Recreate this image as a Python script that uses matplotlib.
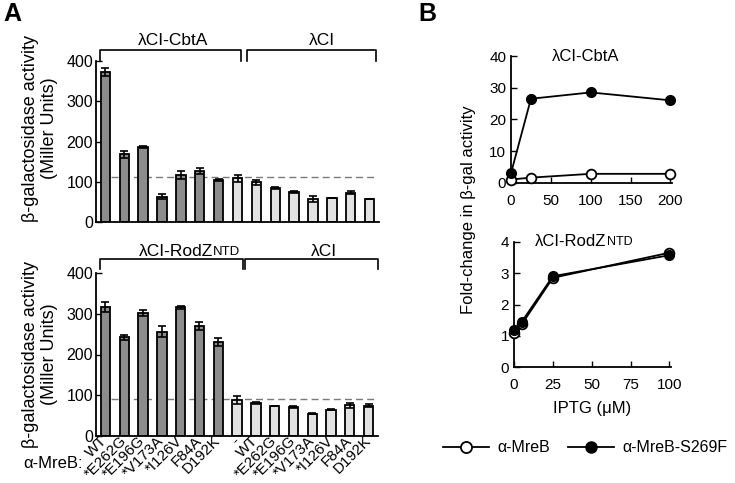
import numpy as np
import matplotlib
matplotlib.use("Agg")
import matplotlib.pyplot as plt
from matplotlib.lines import Line2D

plt.rcParams["font.family"] = ["Liberation Sans", "DejaVu Sans"]

# ── data: panel A ──
mutants = ["WT", "*E262G", "*E196G", "*V173A", "*I126V", "F84A", "D192K", "-",
           "WT", "*E262G", "*E196G", "*V173A", "*I126V", "F84A", "D192K"]
# first 7 bars are fusion + MreB variants (dark), the rest light
n_dark = 7

cbta_vals = [373, 168, 186, 63, 117, 127, 105, 109, 99, 85, 75, 57, 60, 73, 57]
cbta_err = [10, 8, 3, 6, 9, 7, 3, 9, 6, 2, 3, 8, 0, 3, 0]
cbta_base = 111

rodz_vals = [317, 242, 301, 256, 315, 270, 231, 89, 81, 73, 72, 55, 65, 76, 75]
rodz_err = [12, 6, 8, 14, 3, 9, 9, 9, 2, 0, 3, 1, 1, 6, 4]
rodz_base = 90

# ── data: panel B ──
iptg_cbta = [0, 25, 100, 200]
cbta_open = [1.0, 1.6, 2.8, 2.8]
cbta_filled = [3.0, 26.5, 28.5, 26.0]

iptg_rodz = [0, 5, 25, 100]
rodz_open = [1.1, 1.37, 2.85, 3.65]
rodz_filled = [1.2, 1.45, 2.9, 3.57]

DARK = "#8c8c8c"
LIGHT = "#e2e2e2"

W, H = 735, 483
fig = plt.figure(figsize=(W / 100, H / 100), dpi=100)


def px_axes(left, right, top, bottom):
    return fig.add_axes([left / W, 1 - bottom / H, (right - left) / W, (bottom - top) / H])


def bar_panel(ax, vals, errs, base, labels_on):
    x = np.arange(len(vals))
    colors = [DARK] * n_dark + [LIGHT] * (len(vals) - n_dark)
    ax.bar(x, vals, width=0.5, color=colors, edgecolor="black", linewidth=1.3, zorder=2)
    ax.errorbar(x, vals, yerr=errs, fmt="none", ecolor="black", elinewidth=1.2,
                capsize=3, capthick=1.2, zorder=3)
    ax.plot([-0.3, 14.3], [base, base], color="#7a7a7a", linestyle=(0, (5, 3)),
            linewidth=1.0, zorder=1)
    ax.set_xlim(-0.5, 14.5)
    ax.set_ylim(0, 400)
    ax.set_yticks([0, 100, 200, 300, 400])
    ax.tick_params(axis="y", direction="in", length=4, width=1, labelsize=11.5, pad=2)
    ax.spines["top"].set_visible(False)
    ax.spines["right"].set_visible(False)
    for s in ("left", "bottom"):
        ax.spines[s].set_linewidth(1.3)
    ax.set_xticks(x)
    if labels_on:
        ax.set_xticklabels(mutants, rotation=45, ha="right", va="center",
                           rotation_mode="anchor", fontsize=11)
        ax.tick_params(axis="x", length=0, pad=1.5)
    else:
        ax.set_xticklabels([])
        ax.tick_params(axis="x", length=0)


def bracket(ax, x0, x1, ytop, ybot):
    tr = ax.get_xaxis_transform()
    ax.plot([x0, x0, x1, x1], [ybot, ytop, ytop, ybot], color="black",
            linewidth=1.2, transform=tr, clip_on=False)


YLAB_A = "β-galactosidase activity\n(Miller Units)"

# ── Panel A, top ──
ax1 = px_axes(96, 379, 61, 222)
bar_panel(ax1, cbta_vals, cbta_err, cbta_base, False)
bracket(ax1, -0.3, 7.2, 1.068, 1.0)
bracket(ax1, 7.5, 14.35, 1.068, 1.0)
tr1 = ax1.get_xaxis_transform()
ax1.text(3.6, 1.13, "λCI-CbtA", transform=tr1, ha="center", va="center", fontsize=12.5)
ax1.text(11.5, 1.13, "λCI", transform=tr1, ha="center", va="center", fontsize=12.5)
fig.text(40 / W, 1 - 128 / H, YLAB_A, rotation=90, ha="center", va="center",
         multialignment="center", fontsize=13, linespacing=1.2)

# ── Panel A, bottom ──
ax2 = px_axes(96, 378, 272.7, 436.3)
bar_panel(ax2, rodz_vals, rodz_err, rodz_base, True)
bracket(ax2, -0.3, 7.3, 1.084, 1.02)
bracket(ax2, 7.45, 14.5, 1.084, 1.02)
tr2 = ax2.get_xaxis_transform()
ax2.text(5.72, 1.13, "λCI-RodZ", transform=tr2, ha="right", va="center", fontsize=12.5)
ax2.text(5.72, 1.125, "NTD", transform=tr2, ha="left", va="center", fontsize=9.5)
ax2.text(11.6, 1.13, "λCI", transform=tr2, ha="center", va="center", fontsize=12.5)
fig.text(40 / W, 1 - 354 / H, YLAB_A, rotation=90, ha="center", va="center",
         multialignment="center", fontsize=13, linespacing=1.2)
fig.text(53 / W, 1 - 463 / H, "α-MreB:", ha="center", va="center", fontsize=12)


def line_panel(ax, xs, y_open, y_filled, xlim, ylim, xticks, yticks):
    ax.plot(xs, y_open, color="black", linewidth=1.3, marker="o", markersize=7,
            markerfacecolor="white", markeredgecolor="black", markeredgewidth=1.3,
            clip_on=False, zorder=3)
    ax.plot(xs, y_filled, color="black", linewidth=1.3, marker="o", markersize=7,
            markerfacecolor="black", markeredgecolor="black", clip_on=False, zorder=4)
    ax.set_xlim(*xlim)
    ax.set_ylim(*ylim)
    ax.set_xticks(xticks)
    ax.set_yticks(yticks)
    ax.tick_params(direction="in", length=4, width=1, labelsize=11)
    ax.tick_params(axis="x", pad=8)
    ax.spines["top"].set_visible(False)
    ax.spines["right"].set_visible(False)
    for s in ("left", "bottom"):
        ax.spines[s].set_linewidth(1.3)


# ── Panel B, top ──
ax3 = px_axes(511, 672, 56, 182.7)
line_panel(ax3, iptg_cbta, cbta_open, cbta_filled, (0, 202), (0, 40),
           [0, 50, 100, 150, 200], [0, 10, 20, 30, 40])
ax3.text(0.463, 1.0, "λCI-CbtA", transform=ax3.transAxes, ha="center", va="center",
         fontsize=12)

# ── Panel B, bottom ──
ax4 = px_axes(514, 671, 241.7, 367.3)
line_panel(ax4, iptg_rodz, rodz_open, rodz_filled, (0, 101), (0, 4),
           [0, 25, 50, 75, 100], [0, 1, 2, 3, 4])
ax4.text(0.59, 1.0, "λCI-RodZ", transform=ax4.transAxes, ha="right", va="center",
         fontsize=12)
ax4.text(0.59, 0.995, "NTD", transform=ax4.transAxes, ha="left", va="center",
         fontsize=9)
ax4.set_xlabel("IPTG (μM)", fontsize=12, labelpad=6)

fig.text(468 / W, 1 - 210 / H, "Fold-change in β-gal activity", rotation=90,
         ha="center", va="center", fontsize=12)

handles = [
    Line2D([], [], color="black", linewidth=1.3, marker="o", markersize=8,
           markerfacecolor="white", markeredgecolor="black", markeredgewidth=1.3),
    Line2D([], [], color="black", linewidth=1.3, marker="o", markersize=8,
           markerfacecolor="black", markeredgecolor="black"),
]
fig.legend(handles, ["α-MreB", "α-MreB-S269F"], loc="center left", ncol=2,
           bbox_to_anchor=(443 / W, 1 - 448 / H), frameon=False, fontsize=11.5,
           handlelength=2.9, handletextpad=0.5, columnspacing=1.1,
           borderpad=0, borderaxespad=0)

fig.text(12 / W, 1 - 14 / H, "A", ha="center", va="center", fontsize=18,
         fontweight="bold")
fig.text(427 / W, 1 - 14 / H, "B", ha="center", va="center", fontsize=18,
         fontweight="bold")

fig.savefig("out.png", dpi=100)
